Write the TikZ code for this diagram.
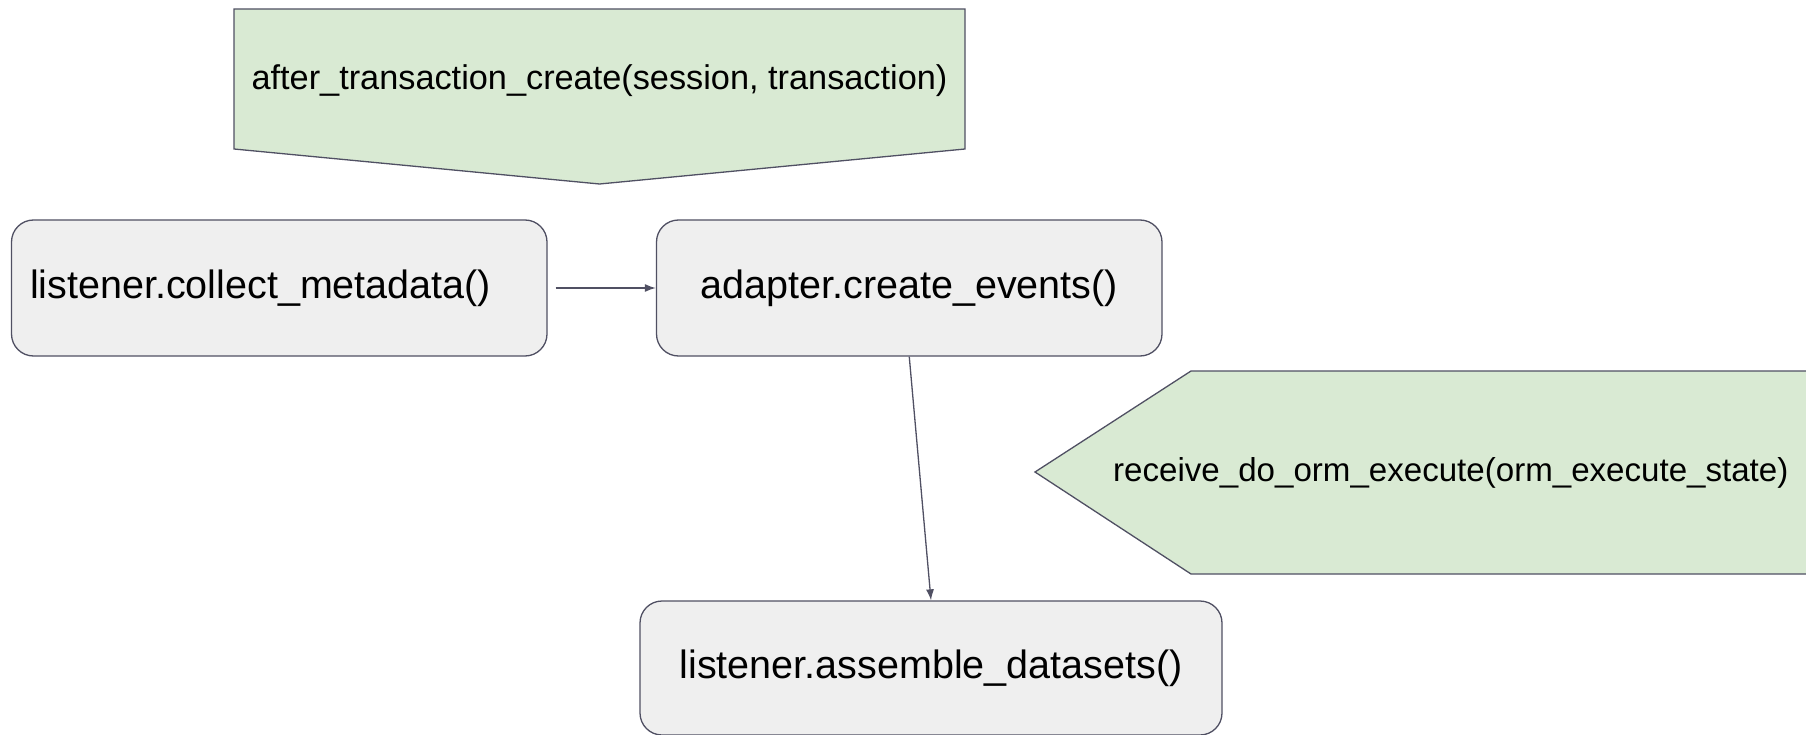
\documentclass[tikz,border=0pt]{standalone}
\usepackage{fontspec}
\setmainfont{Liberation Sans}
\usetikzlibrary{arrows.meta}
\definecolor{edgecol}{HTML}{505063}
\definecolor{boxfill}{HTML}{EFEFEF}
\definecolor{greenfill}{HTML}{D9EAD3}
\begin{document}
\begin{tikzpicture}[x=1pt,y=-1pt,
  procbox/.style={draw=edgecol, fill=boxfill, line width=1.3pt, rounded corners=22pt,
    minimum height=136pt, inner sep=0pt, font=\fontsize{39.5}{47}\selectfont},
  eventshape/.style={draw=edgecol, fill=greenfill, line width=1.3pt},
  eventtext/.style={inner sep=0pt, font=\fontsize{33.5}{40}\selectfont},
  flow/.style={draw=edgecol, line width=1.3pt, -{Latex[length=11pt,width=8pt]}}]
\useasboundingbox (0,0) rectangle (1806,735);
\clip (0,0) rectangle (1806,735);
% green event shapes
\draw[eventshape] (234,9) -- (965,9) -- (965,149) -- (599.5,184) -- (234,149) -- cycle;
\node[eventtext, font=\fontsize{34.3}{41}\selectfont] (aftertx) at (599.5,80.5) {after\_transaction\_create(session, transaction)};
\draw[eventshape] (1191,371) -- (1815,371) -- (1815,574) -- (1191,574) -- (1035,472) -- cycle;
\node[eventtext, anchor=west, font=\fontsize{33.1}{40}\selectfont] (orm) at (1113,473) {receive\_do\_orm\_execute(orm\_execute\_state)};
% process boxes
\node[procbox, minimum width=535.5pt, text width=498.5pt, inner xsep=18.5pt, align=left]
  (collect) at (279.25,288) {listener.collect\_metadata()};
\node[procbox, minimum width=505.5pt] (create) at (909.25,288) {adapter.create\_events()};
\node[procbox, minimum width=582pt, minimum height=134pt] (assemble) at (931,668) {\raisebox{-3pt}{listener.assemble\_datasets()}};
% connectors
\draw[flow, shorten <=8pt] (collect) -- (create);
\draw[flow] (create.south) -- (assemble.north);
\end{tikzpicture}
\end{document}
